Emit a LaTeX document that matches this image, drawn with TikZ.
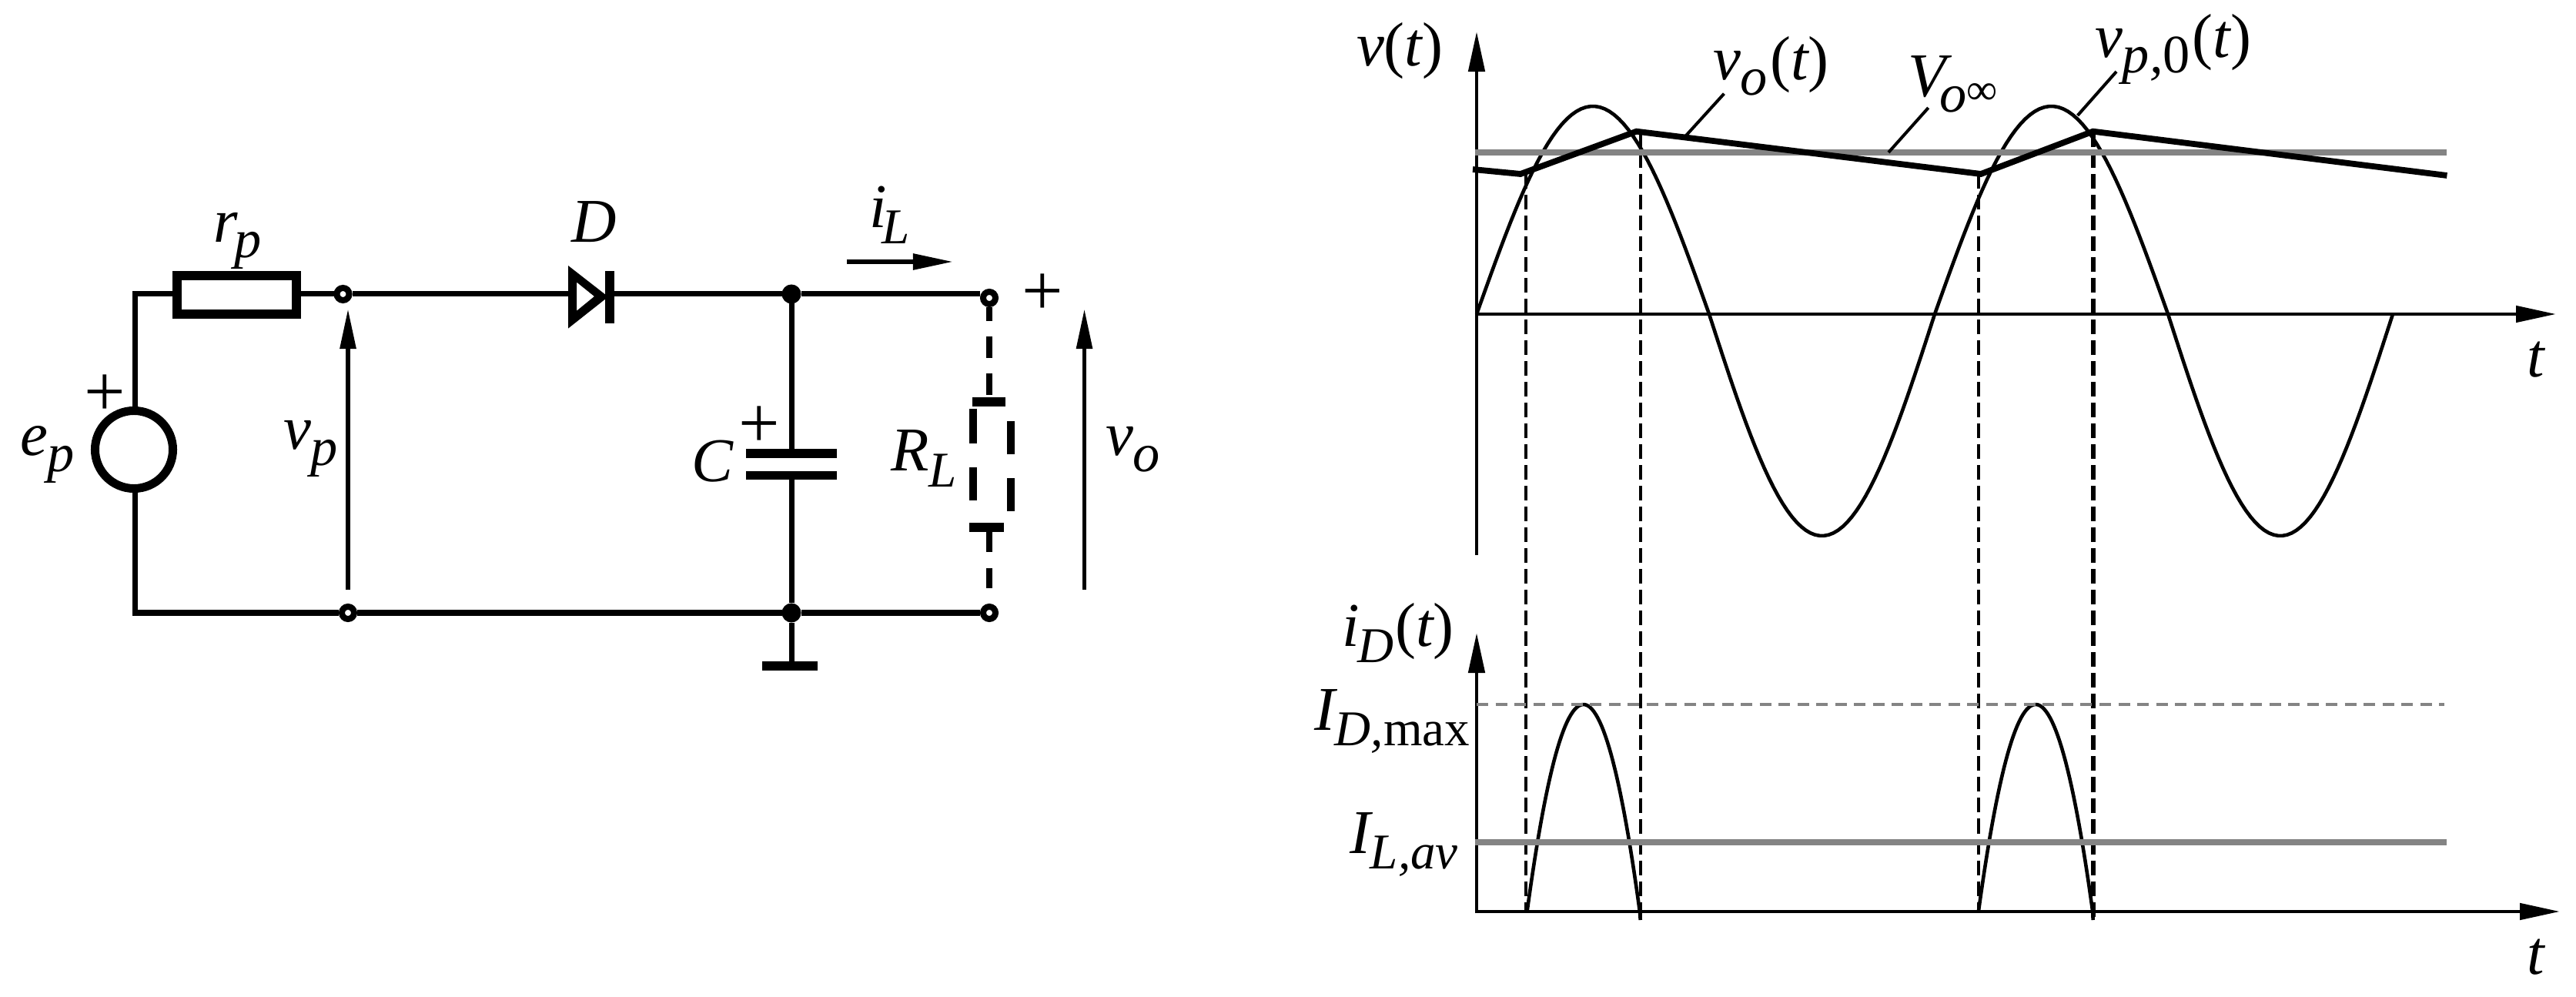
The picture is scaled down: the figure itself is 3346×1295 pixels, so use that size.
\documentclass[tikz,border=0pt]{standalone}
\usepackage{fontspec}
\setmainfont{Liberation Serif}
\usetikzlibrary{arrows.meta,calc}
\newcommand{\sbx}[1]{\raisebox{-0.2cm}{\fontsize{20}{24}\selectfont #1}}
\newcommand{\sbz}[1]{\raisebox{-0.2cm}{\fontsize{18.5}{22}\selectfont #1}}
\newcommand{\lprn}{{\upshape(}}
\newcommand{\rprn}{{\upshape)}}
\definecolor{gline}{HTML}{848484}
\tikzset{
  lab/.style={anchor=base west,inner sep=0pt,outer sep=0pt,font=\fontsize{23}{27}\selectfont\itshape},
  plus/.style={inner sep=0pt,outer sep=0pt,font=\fontsize{27}{31}\selectfont},
  wire/.style={line width=0.07cm},
  term/.style={circle,draw,fill=white,line width=0.08cm,minimum size=0.16cm,inner sep=0pt,outer sep=0.04cm},
  junc/.style={circle,fill,minimum size=0.25cm,inner sep=0pt,outer sep=0pt},
  bar/.style={fill,inner sep=0pt,outer sep=0pt},
  volt/.style={line width=0.057cm,-{Triangle[length=0.52cm,width=0.2cm]}},
  axis/.style={line width=0.047cm,-{Triangle[length=0.52cm,width=0.21cm]}},
  sig/.style={line width=0.046cm},
  lead/.style={line width=0.04cm},
  thickv/.style={line width=0.078cm},
  gsolid/.style={gline,line width=0.08cm},
  gdash/.style={gline,line width=0.047cm,dash pattern=on 0.15cm off 0.095cm},
  sw/.style={line width=0.04cm,dash pattern=on 0.19cm off 0.08cm},
  swb/.style={line width=0.06cm,dash pattern=on 0.19cm off 0.08cm},
  dashres/.style={line width=0.107cm},
}
\begin{document}
\begin{tikzpicture}[x=0.01cm,y=-0.01cm]
\useasboundingbox[fill=white] (0,0) rectangle (3346,1295);

% ---------- circuit ----------
\node[circle,draw,line width=0.11cm,minimum size=1.01cm,inner sep=0pt,outer sep=0.055cm] (src) at (174,584) {};
\node[draw,line width=0.12cm,minimum width=1.55cm,minimum height=0.5cm,inner sep=0pt,outer sep=0.06cm] (res) at (307.5,383) {};
\node[term] (tl) at (445.5,382) {};
\node[term] (bl) at (452,796) {};
\node[term] (tr) at (1285,387) {};
\node[term] (br) at (1285,796) {};
\node[junc] (jt) at (1028,382) {};
\node[junc] (jb) at (1028,796) {};
\node[bar,minimum width=1.18cm,minimum height=0.12cm] (capt) at (1028,589) {};
\node[bar,minimum width=1.18cm,minimum height=0.107cm] (capb) at (1028,617.5) {};
\node[bar,minimum width=0.72cm,minimum height=0.116cm] (gnd) at (1026,865) {};
\node[bar,minimum width=0.12cm,minimum height=0.675cm] (dbar) at (792,386) {};
\node[bar,minimum width=0.43cm,minimum height=0.12cm] (pt) at (1284.5,522) {};
\node[bar,minimum width=0.45cm,minimum height=0.11cm] (pb) at (1281,685) {};
\coordinate (da) at (738,382);
\coordinate (wtop) at (175,382);
\coordinate (wbot) at (175,796);

\fill[even odd rule] (738,345)--(790,385.5)--(738,426.6)--cycle (749,366.5)--(772,385)--(749,403.8)--cycle;

\draw[wire,line join=miter] (src.north -| wtop) -- (wtop) -- (res.west |- wtop);
\draw[wire] (res.east |- wtop) -- (tl.west);
\draw[wire] (tl.east) -- (da);
\draw[wire] (dbar.east |- tl) -- (jt) -- (tr.west |- tl);
\draw[wire,line join=miter] (src.south -| wbot) -- (wbot) -- (bl.west);
\draw[wire] (bl.east) -- (jb) -- (br.west);
\draw[wire] (jt) -- (capt.north);
\draw[wire] (capb.south) -- (jb);
\draw[wire] (jb) -- (gnd.north -| jb);
\draw[line width=0.075cm,dash pattern=on 0.28cm off 0.2cm,dash phase=0.1cm] (tr.south) -- (tr.south |- pt.north);
\draw[line width=0.075cm,dash pattern=on 0.26cm off 0.21cm] (br.north |- pb.south) -- (br.north);
\coordinate (rla) at (1264,531.5);
\coordinate (rlb) at (1264,650);
\coordinate (rra) at (1313,547);
\coordinate (rrb) at (1313,664);
\draw[dashres,dash pattern=on 0.445cm off 0.31cm] (rla) -- (rlb);
\draw[dashres,dash pattern=on 0.425cm off 0.315cm] (rra) -- (rrb);

\coordinate (vpa) at (452,766.5); \coordinate (vpb) at (452,401);
\coordinate (voa) at (1408.5,766.5); \coordinate (vob) at (1408.5,401);
\coordinate (ila) at (1100,340); \coordinate (ilb) at (1238,340);
\draw[volt] (vpa) -- (vpb);
\draw[volt] (voa) -- (vob);
\draw[volt] (ila) -- (ilb);

\node[lab] (lrp) at (277,314.6) {r\kern-0.04cm\sbx{p}};
\node[lab] (ld) at (742,314.6) {D};
\node[lab] (lep) at (26,592) {e\sbx{p}};
\node[lab] (lvp) at (368,584) {v\sbx{p}};
\node[lab] (lil) at (1129,296) {i\kern-0.06cm\sbz{L}};
\node[lab] (lc) at (898,625.6) {C};
\node[lab] (lrl) at (1157,612) {R\sbz{L}};
\node[lab] (lvo) at (1436,592) {v\sbx{o}};
\node[plus] (pe) at (136,514) {+};
\node[plus] (pc) at (986,555) {+};
\node[plus] (po) at (1354.5,383) {+};

% ---------- upper plot ----------
\draw[sig] plot[samples=50,domain=0:1] ({1918+302*\x},{408-270*sin(180*\x)})
  -- plot[samples=50,domain=0:1] ({2220+293*\x},{408+288*sin(180*\x)})
  -- plot[samples=50,domain=0:1] ({2513+303*\x},{408-270*sin(180*\x)})
  -- plot[samples=50,domain=0:1] ({2816+292*\x},{408+288*sin(180*\x)});

\coordinate (o1) at (1916,408); \coordinate (x1) at (3320,408);
\coordinate (o2) at (1918,721); \coordinate (y1) at (1918,41);
\draw[axis] (o1) -- (x1);
\draw[axis] (o2) -- (y1);

% dashed projections
\coordinate (d1a) at (1981.7,226); \coordinate (d1b) at (1981.7,1185);
\coordinate (d2a) at (2130.7,172); \coordinate (d2b) at (2130.7,1195);
\coordinate (d3a) at (2570,226);   \coordinate (d3b) at (2570,1185);
\coordinate (d4a) at (2718.6,172); \coordinate (d4b) at (2718.6,1195);

\draw[sw] (d1a) -- (d1b);
\draw[sw] (d2a) -- (d2b);
\draw[sw] (d3a) -- (d3b);
\draw[swb] (d4a) -- (d4b);

\coordinate (vinfa) at (1916,198); \coordinate (vinfb) at (3178,198);
\draw[gsolid] (vinfa) -- (vinfb);

\draw[thickv,line join=miter,miter limit=8] (1913,220) -- (1975,226) -- (2125.6,170.7) -- (2573,226) -- (2718.6,170.7) -- (3178.4,228);

\coordinate (ll1a) at (2189.4,176.7); \coordinate (ll1b) at (2239.4,121.7);
\coordinate (ll2a) at (2453,198);     \coordinate (ll2b) at (2504.7,140);
\coordinate (ll3a) at (2698.6,150);   \coordinate (ll3b) at (2749,93);
\draw[lead] (ll1a) -- (ll1b);
\draw[lead] (ll2a) -- (ll2b);
\draw[lead] (ll3a) -- (ll3b);

\node[lab] (lvt) at (1762,86) {v\lprn t\rprn};
\node[lab] (lvot) at (2225,104) {v\sbx{o}\kern0.03cm\lprn t\rprn};
\node[lab] (lvinf) at (2478,126) {V\kern-0.08cm\sbx{o{\upshape\fontsize{16}{18}\selectfont\raisebox{0.1cm}{∞}}}};
\node[lab] (lvp0) at (2721,75) {v\sbx{p,{\upshape 0}}\kern0.03cm\lprn t\rprn};
\node[lab] (lt1) at (3282,490) {t};

% ---------- lower plot ----------
\draw[sig] plot[samples=60,domain=-1:1] ({2056.7+73.3*\x},{915+270*\x*\x}) -- (2130.7,1195);
\draw[sig] plot[samples=60,domain=-1:1] ({2644+74.3*\x},{915+270*\x*\x}) -- (2718.6,1195);

\coordinate (o3) at (1916,1184); \coordinate (x2) at (3325,1184);
\coordinate (o4) at (1918,1186); \coordinate (y2) at (1918,822);
\draw[axis] (o3) -- (x2);
\draw[axis] (o4) -- (y2);

\coordinate (ida) at (1918,915); \coordinate (idb) at (3175,915);
\coordinate (ila2) at (1916,1094); \coordinate (ilb2) at (3178,1094);
\draw[gdash] (ida) -- (idb);
\draw[gsolid] (ila2) -- (ilb2);

\node[lab] (lid) at (1743,840) {i\kern-0.02cm\sbz{D}\kern0.02cm\lprn t\rprn};
\node[lab] (lidm) at (1707,948) {I\sbz{D,{\upshape max}}};
\node[lab] (lila) at (1753,1108) {I\sbz{L,av}};
\node[lab] (lt2) at (3282,1265) {t};
\end{tikzpicture}
\end{document}
